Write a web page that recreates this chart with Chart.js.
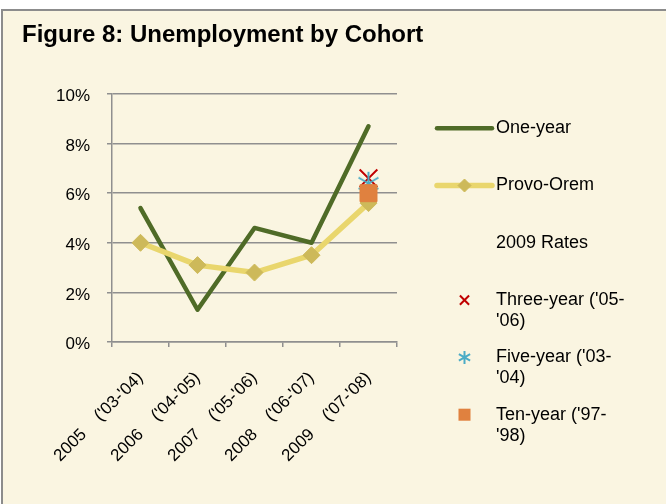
<!DOCTYPE html>
<html>
<head>
<meta charset="utf-8">
<script src="https://cdn.jsdelivr.net/npm/chart.js@4.4.0/dist/chart.umd.min.js"></script>
<style>
  html, body { margin: 0; background: #fff; overflow: hidden; }
  #frame { position: absolute; left: 1px; top: 9px; width: 700px; height: 520px;
           border: 2px solid #8c8c8c; background: #faf5e1; }
  #chart { position: absolute; left: 0; top: 0; }
</style>
</head>
<body>
<div id="frame"><canvas id="chart" width="663" height="493"></canvas></div>
<script>
  // Unemployment rate (%) by graduating year (cohort years in parentheses)
  var years = ["2005    ('03-'04)", "2006    ('04-'05)", "2007    ('05-'06)", "2008    ('06-'07)", "2009    ('07-'08)"];
  var oneYear = [5.4, 1.3, 4.6, 4.0, 8.7];
  var provoOrem = [4.0, 3.1, 2.8, 3.5, 5.6];

  // 2009 rates for older cohorts (plotted at the 2009 category only)
  var ratesHeading = '2009 Rates';
  var rateLabels = ["Three-year ('05-'06)", "Five-year ('03-'04)", "Ten-year ('97-'98)"];
  var rateValues = [6.6, 6.4, 6.0];

  var yTicks = [0, 2, 4, 6, 8, 10];

  var FONT = '"Liberation Sans", Arial, sans-serif';
  Chart.defaults.font.family = FONT;
  Chart.defaults.color = '#000';

  var GRID = '#8f8f8f';

  // six-arm asterisk like the spreadsheet "star" marker
  function asteriskPath(ctx, x, y, r) {
    var c = Math.cos(Math.PI / 6) * r, s = Math.sin(Math.PI / 6) * r;
    ctx.moveTo(x, y - r); ctx.lineTo(x, y + r);
    ctx.moveTo(x - c, y - s); ctx.lineTo(x + c, y + s);
    ctx.moveTo(x - c, y + s); ctx.lineTo(x + c, y - s);
  }

  function makeAsterisk(r, color, lw) {
    var size = Math.ceil(2 * r + lw * 2);
    var c = document.createElement('canvas');
    c.width = size; c.height = size;
    var g = c.getContext('2d');
    g.strokeStyle = color; g.lineWidth = lw;
    g.beginPath(); asteriskPath(g, size / 2, size / 2, r); g.stroke();
    return c;
  }

  function onlyLast(v) {
    return years.map(function (_, i) { return i === years.length - 1 ? v : null; });
  }

  var rateStyles = [
    { style: 'crossRot', radius: 12.5, color: '#c00000', width: 2 },
    { style: makeAsterisk(11.5, '#4bacc6', 2), radius: 10, color: '#4bacc6', width: 2 },
    { style: 'rect', radius: 12, color: '#e0813f', width: 1 }
  ];

  var datasets = [
    {
      label: 'One-year',
      data: oneYear,
      borderColor: '#4f6b27',
      backgroundColor: '#4f6b27',
      borderWidth: 4.5,
      borderCapStyle: 'round',
      borderJoinStyle: 'round',
      pointRadius: 0,
      order: 5
    },
    {
      label: 'Provo-Orem',
      data: provoOrem,
      borderColor: '#e9d66d',
      backgroundColor: '#cdb95a',
      borderWidth: 5.5,
      borderCapStyle: 'round',
      borderJoinStyle: 'round',
      pointStyle: 'rectRot',
      pointRadius: 8.5,
      pointBackgroundColor: '#cdb95a',
      pointBorderColor: '#cdb95a',
      pointBorderWidth: 1,
      order: 4
    }
  ];

  rateLabels.forEach(function (lbl, i) {
    var st = rateStyles[i];
    datasets.push({
      label: lbl,
      data: onlyLast(rateValues[i]),
      showLine: false,
      pointStyle: st.style,
      pointRadius: st.radius,
      pointBorderColor: st.color,
      pointBackgroundColor: st.color,
      pointBorderWidth: st.width,
      borderColor: st.color,
      backgroundColor: st.color,
      order: 3 - i
    });
  });

  function wrapText(ctx, text, maxW) {
    var parts = text.split(/(?<=[ \-])/);
    var lines = [], cur = '';
    parts.forEach(function (p) {
      if (cur && ctx.measureText((cur + p).trim()).width > maxW) {
        lines.push(cur.trim()); cur = p;
      } else {
        cur += p;
      }
    });
    if (cur) lines.push(cur.trim());
    return lines;
  }

  function drawMarker(ctx, ds, x, y, r) {
    var st = ds.pointStyle;
    ctx.save();
    ctx.fillStyle = ds.pointBackgroundColor;
    ctx.strokeStyle = ds.pointBorderColor;
    ctx.lineWidth = ds.pointBorderWidth;
    ctx.beginPath();
    if (st === 'rectRot') {
      ctx.moveTo(x - r, y); ctx.lineTo(x, y - r); ctx.lineTo(x + r, y); ctx.lineTo(x, y + r);
      ctx.closePath(); ctx.fill(); ctx.stroke();
    } else if (st === 'rect') {
      var s = r * Math.SQRT1_2;
      ctx.rect(x - s, y - s, 2 * s, 2 * s); ctx.fill();
    } else if (st === 'crossRot') {
      var d = r * Math.SQRT1_2;
      ctx.moveTo(x - d, y - d); ctx.lineTo(x + d, y + d);
      ctx.moveTo(x + d, y - d); ctx.lineTo(x - d, y + d);
      ctx.stroke();
    } else {
      asteriskPath(ctx, x, y, r); ctx.stroke();
    }
    ctx.restore();
  }

  // Side legend, drawn the way the spreadsheet lays it out
  var sideLegend = {
    id: 'sideLegend',
    afterDraw: function (chart) {
      var ctx = chart.ctx, area = chart.chartArea;
      var x0 = area.right + 40, x1 = area.right + 95, symX = area.right + 67.5, textX = area.right + 99;
      var rowTop = area.top + 34.2, rowStep = 57.3, lineH = 21;
      var dsets = chart.data.datasets;
      var rows = [dsets[0], dsets[1], ratesHeading, dsets[2], dsets[3], dsets[4]];

      ctx.save();
      ctx.font = '18px ' + FONT;
      ctx.fillStyle = '#000';
      ctx.textBaseline = 'middle';
      ctx.textAlign = 'left';
      rows.forEach(function (row, i) {
        var y = rowTop + i * rowStep;
        var text = typeof row === 'string' ? row : row.label;
        if (typeof row !== 'string') {
          if (row.showLine !== false) {
            ctx.save();
            ctx.strokeStyle = row.borderColor;
            ctx.lineWidth = row.borderWidth;
            ctx.lineCap = 'round';
            ctx.beginPath(); ctx.moveTo(x0, y); ctx.lineTo(x1, y); ctx.stroke();
            ctx.restore();
            if (row.pointRadius) drawMarker(ctx, row, symX, y, 6.5);
          } else {
            drawMarker(ctx, row, symX, y, row.pointStyle === 'rect' ? 8.5 : 6.5);
          }
        }
        wrapText(ctx, text, 136).forEach(function (ln, k) {
          ctx.fillText(ln, textX, y + k * lineH);
        });
      });
      ctx.restore();
    }
  };

  new Chart(document.getElementById('chart'), {
    type: 'line',
    data: { labels: years, datasets: datasets },
    plugins: [sideLegend],
    options: {
      responsive: false,
      animation: false,
      layout: { padding: { left: 19, right: 0, top: 0, bottom: 0 } },
      plugins: {
        legend: { display: false },
        tooltip: { enabled: false },
        title: {
          display: true,
          text: 'Figure 8: Unemployment by Cohort',
          align: 'start',
          color: '#000',
          font: { size: 24, weight: 'bold' },
          padding: { top: 10, bottom: 44.2 }
        }
      },
      scales: {
        x: {
          offset: true,
          grid: { offset: true, drawOnChartArea: false, tickLength: 5, color: GRID, lineWidth: 1.5 },
          border: { color: GRID, width: 1.5 },
          ticks: { minRotation: 45, maxRotation: 45, autoSkip: false, padding: 21,
                   font: { size: 17 }, color: '#000' },
          afterFit: function (s) { s.height = 162; }
        },
        y: {
          min: yTicks[0],
          max: yTicks[yTicks.length - 1],
          afterBuildTicks: function (s) { s.ticks = yTicks.map(function (v) { return { value: v }; }); },
          grid: { color: GRID, lineWidth: 1.5, tickLength: 5 },
          border: { color: GRID, width: 1.5 },
          ticks: { padding: 17, labelOffset: 2.5, font: { size: 17 }, color: '#000',
                   callback: function (v) { return v + '%'; } },
          afterFit: function (s) { s.width = 90; }
        },
        // empty right-hand box that reserves room for the side legend
        legendSpace: {
          type: 'linear',
          position: 'right',
          grid: { display: false, drawTicks: false },
          border: { display: false },
          ticks: { display: false },
          afterFit: function (s) { s.width = 269; }
        }
      }
    }
  });
</script>
</body>
</html>
